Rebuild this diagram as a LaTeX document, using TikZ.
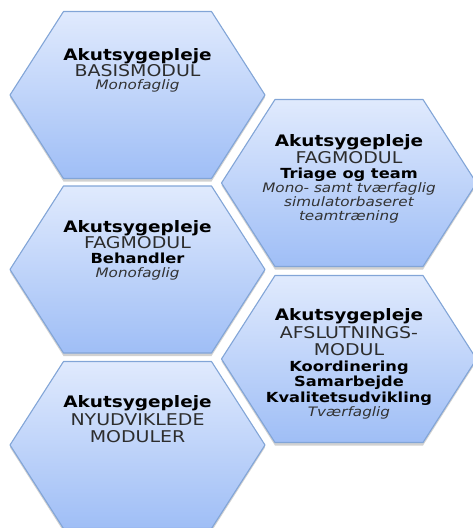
\documentclass[tikz,border=0pt]{standalone}
\usepackage{fontspec}
\newfontfamily\hexfont{DejaVu Sans}[FakeStretch=1.17, BoldFont={DejaVu Sans Bold}, ItalicFont={DejaVu Sans Oblique}, BoldItalicFont={DejaVu Sans Bold Oblique}]
\definecolor{hexTop}{RGB}{224,234,253}
\definecolor{hexBot}{RGB}{159,190,246}
\definecolor{hexLine}{RGB}{130,165,215}
\definecolor{txtGray}{RGB}{45,45,45}
\definecolor{txtIt}{RGB}{50,50,50}
\tikzset{
  hexbox/.style={draw=hexLine, line width=1.1pt, line join=round, top color=hexTop, bottom color=hexBot},
  hexshadow/.style={fill=black, opacity=0.18},
  hexagon/.pic={
    \fill[hexshadow] (-127.5,2.5) -- (-74,-81) -- (74,-81) -- (127.5,2.5) -- (74,86.5) -- (-74,86.5) -- cycle;
    \path[hexbox] (-127.5,0) -- (-74,-83.5) -- (74,-83.5) -- (127.5,0) -- (74,83.5) -- (-74,83.5) -- cycle;
  },
  tline/.style={anchor=base, inner sep=0pt, font=\hexfont\fontsize{15.8}{17}\selectfont\bfseries, text=black},
  cline/.style={anchor=base, inner sep=0pt, font=\hexfont\fontsize{16.2}{17}\selectfont, text=txtGray},
  bline/.style={anchor=base, inner sep=0pt, font=\hexfont\fontsize{13.9}{15}\selectfont\bfseries, text=black},
  iline/.style={anchor=base, inner sep=0pt, font=\hexfont\fontsize{13}{14}\selectfont\itshape, text=txtIt}
}
\begin{document}
\begin{tikzpicture}[x=1pt, y=-1pt]
\useasboundingbox (0,0) rectangle (473,528);
\begin{scope}
\clip (0,0) rectangle (473,528);
\pic (h1) at (137.5,95) {hexagon};
\pic (h2) at (349,183) {hexagon};
\pic (h3) at (137.5,269.5) {hexagon};
\pic (h4) at (349,359) {hexagon};
\pic (h5) at (137.5,445) {hexagon};
\end{scope}
% hexagon 1
\node[tline] (a1) at (137.5,60) {Akutsygepleje};
\node[cline] (a2) at (137.5,76) {BASISMODUL};
\node[iline] (a3) at (137.5,89.5) {Monofaglig};
% hexagon 2
\node[tline] (b1) at (349,146.5) {Akutsygepleje};
\node[cline] (b2) at (349,163) {FAGMODUL};
\node[bline] (b3) at (349,178) {Triage og team};
\node[iline] (b4) at (349,192.5) {Mono- samt tværfaglig};
\node[iline] (b5) at (349,206.5) {simulatorbaseret};
\node[iline] (b6) at (349,220.5) {teamtræning};
% hexagon 3
\node[tline] (c1) at (137.5,232.5) {Akutsygepleje};
\node[cline] (c2) at (137.5,248.5) {FAGMODUL};
\node[bline] (c3) at (137.5,263.5) {Behandler};
\node[iline] (c4) at (137.5,277) {Monofaglig};
% hexagon 4
\node[tline] (d1) at (349,320) {Akutsygepleje};
\node[cline] (d2) at (349,338) {AFSLUTNINGS-};
\node[cline] (d3) at (349,355) {MODUL};
\node[bline] (d4) at (349,371) {Koordinering};
\node[bline] (d5) at (349,386.5) {Samarbejde};
\node[bline] (d6) at (349,402.5) {Kvalitetsudvikling};
\node[iline] (d7) at (349,416) {Tværfaglig};
% hexagon 5
\node[tline] (e1) at (137.5,407.5) {Akutsygepleje};
\node[cline] (e2) at (137.5,425.5) {NYUDVIKLEDE};
\node[cline] (e3) at (137.5,442) {MODULER};
\end{tikzpicture}
\end{document}
